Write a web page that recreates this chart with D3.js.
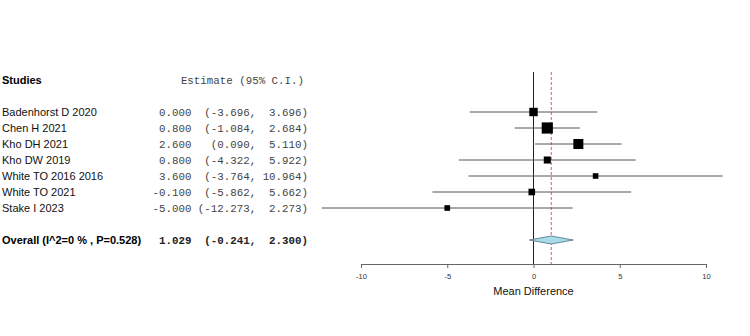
<!DOCTYPE html>
<html>
  <head>
    <script src="https://d3js.org/d3.v7.min.js"></script>
    <style>
      body { margin: 0; background: #fff; }
      text { white-space: pre; }
    </style>
  </head>
  <body>
<script type="text/javascript">
var width = 750;
var height = 336;

// study data
var studies = ['Badenhorst D 2020', 'Chen H 2021', 'Kho DH 2021', 'Kho DW 2019',
               'White TO 2016 2016', 'White TO 2021', 'Stake I 2023'];
var estimates = [0.000, 0.800, 2.600, 0.800, 3.600, -0.100, -5.000];
var lowers = [-3.696, -1.084, 0.090, -4.322, -3.764, -5.862, -12.273];
var uppers = [3.696, 2.684, 5.110, 5.922, 10.964, 5.662, 2.273];
var weights = [11.8, 45.5, 25.6, 6.1, 3.0, 4.9, 3.1]; // % weight

var overallLabel = 'Overall (I^2=0 % , P=0.528)';
var overall = {est: 1.029, lo: -0.241, hi: 2.300};
var xTicks = [-10, -5, 0, 5, 10];

var svg = d3.select('body').append('svg')
      .attr('width', width)
      .attr('height', height);

var x = d3.scaleLinear().domain([-10, 10]).range([361, 706]);
var y = d3.scaleLinear().domain([0, 8]).range([112, 240]);
var boxSize = d3.scaleLog().domain([3.0, 45.5]).range([5.6, 11.2]);

function fmt(v) { return v.toFixed(3); }
function ciText(est, lo, hi) {
  return fmt(est).padStart(6) + ' ' + ('(' + fmt(lo) + ',').padStart(9) + ' ' + (fmt(hi) + ')').padStart(7);
}

var labelFont = '"Liberation Sans", Arial, sans-serif';
var monoFont = '"Liberation Mono", "Courier New", monospace';

// header
svg.append('text')
    .attr('x', 2).attr('y', y(-2)).attr('dy', '0.35em')
    .style('font-family', labelFont).style('font-size', '11px').style('font-weight', 'bold')
    .text('Studies');
svg.append('text')
    .attr('x', 304).attr('y', y(-2)).attr('dy', '0.35em')
    .attr('text-anchor', 'end')
    .style('font-family', monoFont).style('font-size', '10.8px').attr('fill', '#444')
    .text('Estimate (95% C.I.)');

// reference lines
svg.append('line')
    .attr('x1', x(0)).attr('x2', x(0))
    .attr('y1', y(-2.5)).attr('y2', y(9.5))
    .attr('stroke', '#222').attr('stroke-width', 1);
svg.append('line')
    .attr('x1', x(overall.est)).attr('x2', x(overall.est))
    .attr('y1', y(-2.5)).attr('y2', y(9.5))
    .attr('stroke', '#e8555a').attr('stroke-width', 1)
    .attr('stroke-dasharray', '3,2');

var rows = svg.append('g')
    .selectAll('g')
    .data(studies)
    .enter()
    .append('g');

rows.append('text')
    .attr('x', 2).attr('y', function(d, i) { return y(i); }).attr('dy', '0.35em')
    .style('font-family', labelFont).style('font-size', '11px').attr('fill', '#111')
    .text(function(d) { return d; });

rows.append('text')
    .attr('x', 308).attr('y', function(d, i) { return y(i); }).attr('dy', '0.35em')
    .attr('text-anchor', 'end')
    .style('font-family', monoFont).style('font-size', '10.8px').attr('fill', '#444')
    .text(function(d, i) { return ciText(estimates[i], lowers[i], uppers[i]); });

rows.append('line')
    .attr('x1', function(d, i) { return x(lowers[i]); })
    .attr('x2', function(d, i) { return x(uppers[i]); })
    .attr('y1', function(d, i) { return y(i); })
    .attr('y2', function(d, i) { return y(i); })
    .attr('stroke', '#555').attr('stroke-width', 1);

rows.append('rect')
    .attr('x', function(d, i) { return x(estimates[i]) - boxSize(weights[i]) / 2; })
    .attr('y', function(d, i) { return y(i) - boxSize(weights[i]) / 2; })
    .attr('width', function(d, i) { return boxSize(weights[i]); })
    .attr('height', function(d, i) { return boxSize(weights[i]); })
    .attr('fill', '#000');

// overall
svg.append('text')
    .attr('x', 2).attr('y', y(8)).attr('dy', '0.35em')
    .style('font-family', labelFont).style('font-size', '11px').style('font-weight', 'bold')
    .text(overallLabel);
svg.append('text')
    .attr('x', 308).attr('y', y(8)).attr('dy', '0.35em')
    .attr('text-anchor', 'end')
    .style('font-family', monoFont).style('font-size', '10.8px').style('font-weight', 'bold').attr('fill', '#222')
    .text(ciText(overall.est, overall.lo, overall.hi));

var yo = y(8);
svg.append('path')
    .attr('d', 'M' + x(overall.lo) + ',' + yo +
               'L' + x(overall.est) + ',' + (yo - 4) +
               'L' + x(overall.hi) + ',' + yo +
               'L' + x(overall.est) + ',' + (yo + 4) + 'Z')
    .attr('fill', '#a8dcea')
    .attr('stroke', '#4a6d80').attr('stroke-width', 0.8);

// axis
var axis = d3.axisBottom(x).tickValues(xTicks).tickSize(4)
    .tickFormat(function(d) { return String(d); });
var gAxis = svg.append('g')
    .attr('transform', 'translate(0,' + y(9.5) + ')')
    .call(axis);
gAxis.select('.domain').attr('stroke', '#666');
gAxis.selectAll('.tick line').attr('stroke', '#666');
gAxis.selectAll('.tick text')
    .attr('y', 10)
    .style('font-family', labelFont).style('font-size', '7.5px').attr('fill', '#333');

svg.append('text')
    .attr('x', x(0)).attr('y', 295)
    .attr('text-anchor', 'middle')
    .style('font-family', labelFont).style('font-size', '11px').attr('fill', '#111')
    .text('Mean Difference');
</script>
  </body>
</html>
